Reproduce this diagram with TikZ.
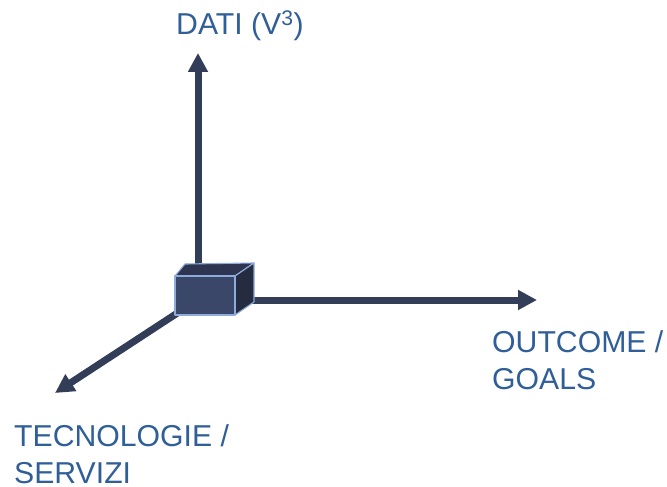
\documentclass[tikz,border=0pt]{standalone}
\usepackage{fontspec}
\setmainfont{Liberation Sans}
\usetikzlibrary{arrows.meta}
\definecolor{axis}{HTML}{323E58}
\definecolor{lbl}{HTML}{2F5E98}
\definecolor{cfront}{HTML}{3B4768}
\definecolor{ctop}{HTML}{2D3550}
\definecolor{cside}{HTML}{262C40}
\definecolor{cedge}{HTML}{8FAADC}
\tikzset{
  axisarrow/.style={draw=axis, line width=7pt, -{Triangle[length=19pt,width=19pt]}},
  face/.style={draw=cedge, line width=1.1pt, line join=round},
  lbltext/.style={text=lbl, inner sep=0pt, font=\fontsize{30.2}{37}\selectfont, align=left}
}
\begin{document}
\begin{tikzpicture}[x=1pt,y=-1pt]
\useasboundingbox (0,0) rectangle (667,487);
\coordinate (o) at (205,295);
\coordinate (up) at (198,53);
\coordinate (right) at (537,300);
\coordinate (down) at (55,393);
\draw[axisarrow] (198,290) -- (up);
\draw[axisarrow] (230,300) -- (right);
\draw[axisarrow] (o) -- (down);
% cube
\fill[ctop,face] (175,276) -- (185,264) -- (254,263) -- (235,276) -- cycle;
\fill[cside,face] (235,276) -- (254,263) -- (254,302) -- (235,315) -- cycle;
\fill[cfront,face] (175,276) rectangle (235,315);
% labels
\node[lbltext, anchor=base west] (dati) at (176,35) {DATI (V\textsuperscript{3})};
\node[lbltext, anchor=north west] (outcome) at (492,330) {OUTCOME /\\GOALS};
\node[lbltext, anchor=north west] (tecno) at (14,424) {TECNOLOGIE /\\SERVIZI};
\end{tikzpicture}
\end{document}
